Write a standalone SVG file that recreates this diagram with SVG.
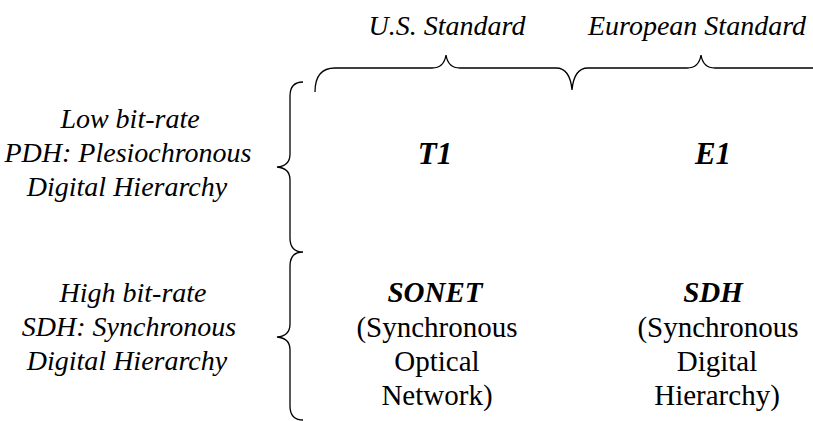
<svg xmlns="http://www.w3.org/2000/svg" width="813" height="421" viewBox="0 0 813 421">
<style>
text{font-family:'Liberation Serif','DejaVu Serif',serif !important}
.it{font-style:italic;font-size:28px;fill:#000;text-anchor:middle}
.bi{font-style:italic;font-weight:bold;font-size:29px;fill:#000;text-anchor:middle}
.rg{font-size:29px;fill:#000;text-anchor:middle}
.brace{fill:none;stroke:#000;stroke-width:1.3}
</style>
<rect width="813" height="421" fill="#fff"/>
<g id="headers">
<text class="it" style="font-family:'Liberation Serif',serif" x="447" y="35">U.S. Standard</text>
<text class="it" style="font-family:'Liberation Serif',serif" x="697" y="35">European Standard</text>
</g>
<g id="connectors">
<path class="brace" d="M315,92 Q315,68 335,68 L432,68 Q444,68 446,55 Q448,68 460,68 L556,68 Q570,68 572,90 Q574,68 588,68 L687,68 Q699,68 701,55 Q703,68 715,68 L813,68"/>
<path class="brace" d="M303,82 Q290,82 290,96 L290,154 Q290,166 277,167 Q290,168 290,180 L290,238 Q290,252 303,252 Q290,252 290,266 L290,324 Q290,336 277,337 Q290,338 290,350 L290,406 Q290,420 303,420"/>
</g>
<g id="row-low">
<text class="it" style="font-family:'Liberation Serif',serif" x="130" y="128">Low bit-rate</text>
<text class="it" style="font-family:'Liberation Serif',serif" x="128" y="162">PDH: Plesiochronous</text>
<text class="it" style="font-family:'Liberation Serif',serif" x="127" y="196">Digital Hierarchy</text>
</g>
<g id="row-high">
<text class="it" style="font-family:'Liberation Serif',serif" x="133" y="302">High bit-rate</text>
<text class="it" style="font-family:'Liberation Serif',serif" x="129" y="336">SDH: Synchronous</text>
<text class="it" style="font-family:'Liberation Serif',serif" x="127" y="370">Digital Hierarchy</text>
</g>
<g id="T1"><text class="bi" style="font-family:'Liberation Serif',serif;font-size:31px" x="435" y="164">T1</text></g>
<g id="E1"><text class="bi" style="font-family:'Liberation Serif',serif;font-size:31px" x="713" y="164">E1</text></g>
<g id="SONET">
<text class="bi" style="font-family:'Liberation Serif',serif" x="435" y="302">SONET</text>
<text class="rg" style="font-family:'Liberation Serif',serif" x="437" y="337">(Synchronous</text>
<text class="rg" style="font-family:'Liberation Serif',serif" x="437" y="371">Optical</text>
<text class="rg" style="font-family:'Liberation Serif',serif" x="437" y="405">Network)</text>
</g>
<g id="SDH">
<text class="bi" style="font-family:'Liberation Serif',serif" x="713" y="302">SDH</text>
<text class="rg" style="font-family:'Liberation Serif',serif" x="718" y="337">(Synchronous</text>
<text class="rg" style="font-family:'Liberation Serif',serif" x="717" y="371">Digital</text>
<text class="rg" style="font-family:'Liberation Serif',serif" x="717" y="405">Hierarchy)</text>
</g>
</svg>
